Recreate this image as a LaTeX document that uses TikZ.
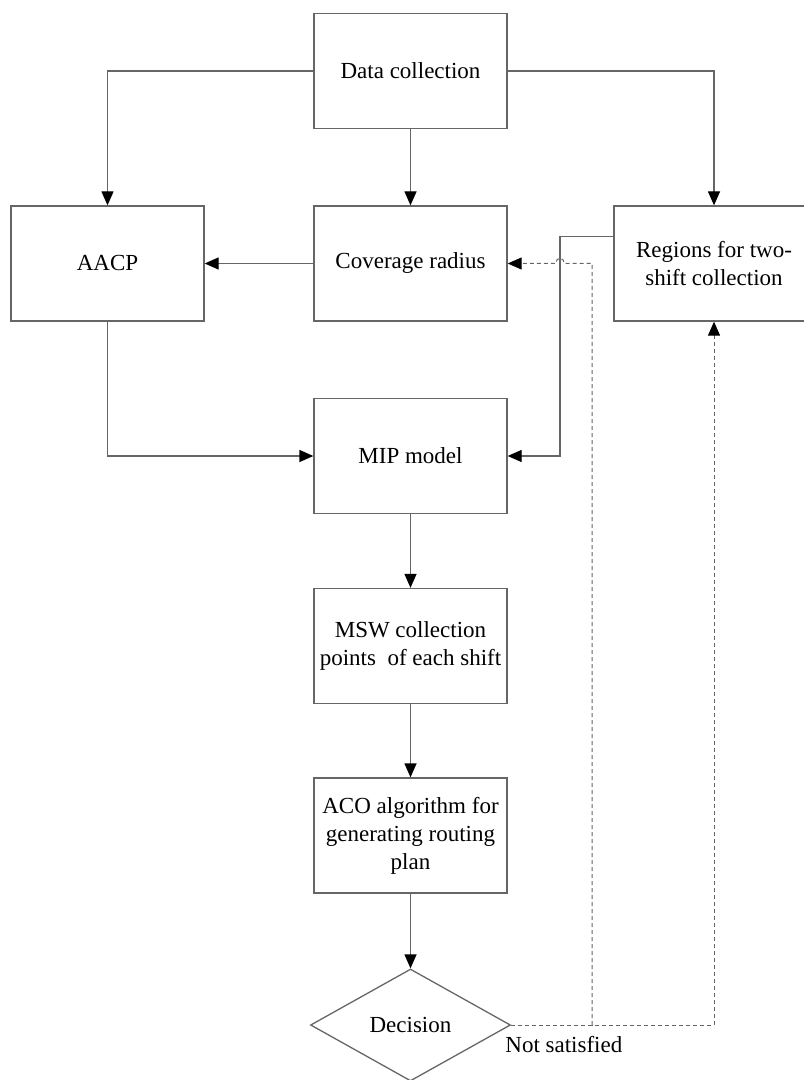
\documentclass[tikz,border=0pt]{standalone}
\usepackage{fontspec}
\setmainfont{Liberation Serif}
\usetikzlibrary{arrows.meta,shapes.geometric}

\begin{document}
\begin{tikzpicture}[x=0.5pt,y=-0.5pt,font=\fontsize{11.5}{14}\selectfont,
  box/.style={draw=black!60,line width=0.65pt,minimum width=96.5pt,minimum height=57.5pt,inner sep=0pt,align=center},
  line/.style={draw=black!60,line width=0.65pt,-{Triangle[length=7pt,width=6pt,color=black]}},
  fb/.style={line,line width=0.5pt,dash pattern=on 2pt off 1.5pt}]
\path[use as bounding box] (0,0) rectangle (803,1080);
\node[box] (dc) at (410.5,71) {Data collection};
\node[box] (aacp) at (107.5,263.5) {AACP};
\node[box] (cov) at (410.5,263.5) {Coverage radius};
\node[box,minimum width=100pt] (reg) at (714,263.5) {Regions for two-\\shift collection};
\node[box] (mip) at (410.5,456) {MIP model};
\node[box] (msw) at (410.5,646) {MSW collection\\points\ \ of each shift};
\node[box] (aco) at (410.5,835.5) {ACO algorithm for\\generating routing\\plan};
\node[draw=black!60,line width=0.65pt,diamond,minimum width=100pt,minimum height=56pt,inner sep=0pt] (dec) at (410.5,1025) {Decision};
\node[anchor=west,inner sep=0pt] (ns) at (505,1045) {Not satisfied};
\coordinate (jog) at (560,236.5);
\coordinate (split) at (592,1025);
\coordinate (hopr) at (564,263.5);
\coordinate (hopl) at (556,263.5);
\draw[line] (dc.west) -| (aacp.north);
\draw[line] (dc.south) -- (cov.north);
\draw[line] (dc.east) -| (reg.north);
\draw[line] (cov.west) -- (aacp.east);
\draw[line] (aacp.south) |- (mip.west);
\draw[line] ([yshift=13.5pt]reg.west) -- (jog) |- (mip.east);
\draw[line] (mip.south) -- (msw.north);
\draw[line] (msw.south) -- (aco.north);
\draw[line] (aco.south) -- (dec.north);
\draw[fb] (dec.east) -- (split) -| (reg.south);
\draw[fb] (split) |- (hopr) .. controls (564,256.5) and (556,256.5) .. (hopl) -- (cov.east);
\end{tikzpicture}
\end{document}
